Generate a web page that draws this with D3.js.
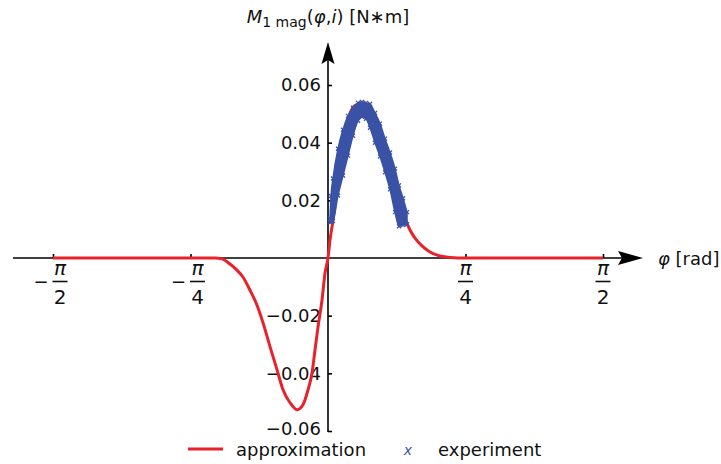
<!DOCTYPE html>
<html>
<head>
<meta charset="utf-8">
<script src="https://cdn.jsdelivr.net/npm/d3@7"></script>
<style>
  body { margin: 0; background: #fff; }
  svg { display: block; font-family: "DejaVu Sans", sans-serif; }
</style>
</head>
<body>
<div id="container"></div>
<script>
/* CONSTANTS AND GLOBALS */
const width = 721,
  height = 464,
  PI = Math.PI;

/* DATA */
// approximation curve: angle phi [rad] and moment [N*m]
const approxPhi = [-1.5708, -0.700, -0.645, -0.605, -0.560, -0.520, -0.486, -0.446, -0.406, -0.371,
  -0.331, -0.291, -0.257, -0.217, -0.177, -0.143, -0.114, -0.091, -0.074, -0.057, -0.034, -0.017,
  0, 0.0114, 0.0286, 0.0457, 0.0685, 0.0971, 0.1257, 0.1542, 0.1885, 0.2228, 0.2570, 0.2970,
  0.3370, 0.3770, 0.4113, 0.4398, 0.4684, 0.4970, 0.5369, 0.5826, 0.6397, 0.697, 0.785, 1.5708];
const approxM = [0, 0, 0, -0.0003, -0.0021, -0.0042, -0.0066, -0.0111, -0.0163, -0.0225,
  -0.0308, -0.0388, -0.0457, -0.0502, -0.0526, -0.0509, -0.0457, -0.0398, -0.0318, -0.0239, -0.0145, -0.0052,
  0, 0.0062, 0.0131, 0.0218, 0.0339, 0.0443, 0.0502, 0.0529, 0.0536, 0.0526, 0.0495, 0.0443,
  0.0374, 0.0287, 0.0201, 0.0138, 0.0097, 0.0069, 0.0042, 0.0021, 0.0007, 0.0002, 0, 0];

// experiment: band of measured points, lower and upper edge per angle
const expPhi = [0.0114, 0.0171, 0.0286, 0.0571, 0.0857, 0.1143, 0.1428, 0.1714, 0.1942, 0.2171,
  0.2399, 0.2685, 0.2970, 0.3256, 0.3541, 0.3827, 0.4056, 0.4284, 0.4513];
const expHigh = [0.0138, 0.0215, 0.0276, 0.0379, 0.0445, 0.0493, 0.0521, 0.0538, 0.0541, 0.0538,
  0.0534, 0.0503, 0.0466, 0.0414, 0.0366, 0.0310, 0.0252, 0.0207, 0.0159];
const expLow = [0.0124, 0.0125, 0.0128, 0.0217, 0.0286, 0.0355, 0.0424, 0.0476, 0.0490, 0.0483,
  0.0452, 0.0400, 0.0352, 0.0297, 0.0238, 0.0159, 0.0110, 0.0114, 0.0117];

// ticks
const xTickValues = [-PI / 2, -PI / 4, PI / 4, PI / 2];
const xTickSign = ["−", "−", "", ""];
const xTickDen = ["2", "4", "4", "2"];
const yTickValues = [-0.06, -0.04, -0.02, 0.02, 0.04, 0.06];
const legendLabels = ["approximation", "experiment"];

const red = "#e8222a",
  blue = "#3a52a6";

/* SCALES */
const xScale = d3.scaleLinear()
  .domain([-PI / 2, PI / 2])
  .range([53, 603]);

const yScale = d3.scaleLinear()
  .domain([-0.06, 0.06])
  .range([431, 85]);

const x0 = xScale(0), y0 = yScale(0);

const svg = d3.select("#container").append("svg")
  .attr("width", width)
  .attr("height", height)
  .style("background-color", "white");

/* AXES */
// x axis line with arrow
svg.append("line")
  .attr("x1", 13).attr("x2", 625)
  .attr("y1", y0).attr("y2", y0)
  .attr("stroke", "black").attr("stroke-width", 1.6);
svg.append("path")
  .attr("d", `M643,${y0}L618,${y0 - 7}L622,${y0}L618,${y0 + 7}Z`)
  .attr("fill", "black");

// y axis line with arrow
svg.append("line")
  .attr("x1", x0).attr("x2", x0)
  .attr("y1", yScale(-0.06) + 1).attr("y2", 60)
  .attr("stroke", "black").attr("stroke-width", 1.6);
svg.append("path")
  .attr("d", `M${x0},42L${x0 - 6.5},64L${x0},60L${x0 + 6.5},64Z`)
  .attr("fill", "black");

const xAxis = d3.axisBottom(xScale)
  .tickValues(xTickValues)
  .tickSizeInner(-4).tickSizeOuter(0)
  .tickFormat("");

const yAxis = d3.axisLeft(yScale)
  .tickValues(yTickValues)
  .tickSizeInner(-4).tickSizeOuter(0)
  .tickPadding(7)
  .tickFormat(d3.format(".2f"));

const gx = svg.append("g").attr("transform", `translate(0,${y0})`).call(xAxis);
gx.select(".domain").remove();
gx.selectAll(".tick line").attr("stroke-width", 1.6);

const gy = svg.append("g").attr("transform", `translate(${x0},0)`).call(yAxis);
gy.select(".domain").remove();
gy.selectAll(".tick line").attr("stroke-width", 1.6);
gy.selectAll(".tick text")
  .attr("font-size", 18)
  .attr("font-family", "DejaVu Sans, sans-serif")
  .attr("fill", "#111")
  .attr("dy", d => d === -0.06 ? "0.2em" : "0.32em");

// fraction tick labels (pi / n)
const frac = svg.append("g").selectAll("g")
  .data(xTickValues)
  .join("g")
  .attr("transform", d => `translate(${xScale(d)},${y0})`);

frac.each(function (d, i) {
  const g = d3.select(this);
  const cx = xTickSign[i] ? 7 : 0;
  if (xTickSign[i]) {
    g.append("text")
      .attr("x", -12).attr("y", 30)
      .attr("text-anchor", "middle")
      .attr("font-size", 18)
      .attr("fill", "#111")
      .text(xTickSign[i]);
  }
  g.append("text")
    .attr("x", cx).attr("y", 17)
    .attr("text-anchor", "middle")
    .attr("font-size", 20)
    .attr("font-style", "italic")
    .attr("fill", "#111")
    .text("π");
  g.append("line")
    .attr("x1", cx - 7.5).attr("x2", cx + 7.5)
    .attr("y1", 23.5).attr("y2", 23.5)
    .attr("stroke", "#111").attr("stroke-width", 1.6);
  g.append("text")
    .attr("x", cx).attr("y", 46)
    .attr("text-anchor", "middle")
    .attr("font-size", 20)
    .attr("fill", "#111")
    .text(xTickDen[i]);
});

// axis titles
const yTitle = svg.append("text")
  .attr("x", x0).attr("y", 23)
  .attr("text-anchor", "middle")
  .attr("font-size", 18)
  .attr("fill", "#111");
yTitle.append("tspan").attr("font-style", "italic").text("M");
yTitle.append("tspan").attr("font-size", 14).attr("dy", 4).text("1 mag");
yTitle.append("tspan").attr("dy", -4).text("(");
yTitle.append("tspan").attr("font-style", "italic").text("φ");
yTitle.append("tspan").text(",");
yTitle.append("tspan").attr("font-style", "italic").text("i");
yTitle.append("tspan").text(") [N∗m]");

const xTitle = svg.append("text")
  .attr("x", 658).attr("y", 265)
  .attr("font-size", 18)
  .attr("fill", "#111");
xTitle.append("tspan").attr("font-style", "italic").text("φ");
xTitle.append("tspan").text(" [rad]");

/* MARKS */
const approx = approxPhi.map((p, i) => ({ phi: p, m: approxM[i] }));
const expData = expPhi.map((p, i) => ({ phi: p, lo: expLow[i], hi: expHigh[i] }));

const line = d3.line()
  .x(d => xScale(d.phi))
  .y(d => yScale(d.m))
  .curve(d3.curveMonotoneX);

svg.append("path")
  .datum(approx)
  .attr("d", line)
  .attr("fill", "none")
  .attr("stroke", red)
  .attr("stroke-width", 3);

const band = d3.area()
  .x(d => xScale(d.phi))
  .y0(d => yScale(d.lo))
  .y1(d => yScale(d.hi))
  .curve(d3.curveMonotoneX);

svg.append("path")
  .datum(expData)
  .attr("d", band)
  .attr("fill", blue)
  .attr("stroke", blue)
  .attr("stroke-width", 1.5);

// small x markers on the band edges
const cross = "M-2,-2L2,2M-2,2L2,-2";
const edgePts = expData.flatMap(d => [{ phi: d.phi, m: d.hi }, { phi: d.phi, m: d.lo }]);
svg.append("g").selectAll("path")
  .data(edgePts)
  .join("path")
  .attr("transform", d => `translate(${xScale(d.phi)},${yScale(d.m)})`)
  .attr("d", cross)
  .attr("stroke", blue)
  .attr("stroke-width", 1.3);

/* LEGEND */
svg.append("line")
  .attr("x1", 188).attr("x2", 223)
  .attr("y1", 449).attr("y2", 449)
  .attr("stroke", red).attr("stroke-width", 3);
svg.append("text")
  .attr("x", 236).attr("y", 456)
  .attr("font-size", 18).attr("fill", "#111")
  .text(legendLabels[0]);
svg.append("text")
  .attr("x", 408).attr("y", 455)
  .attr("text-anchor", "middle")
  .attr("font-size", 14).attr("font-style", "italic")
  .attr("fill", blue)
  .text("x");
svg.append("text")
  .attr("x", 438).attr("y", 456)
  .attr("font-size", 18).attr("fill", "#111")
  .text(legendLabels[1]);
</script>
</body>
</html>
